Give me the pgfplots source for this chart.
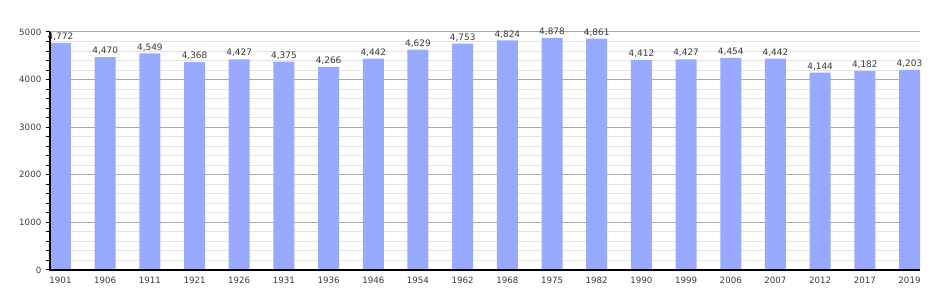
\documentclass[border=0pt]{standalone}
\usepackage{pgfplots}
\pgfplotsset{compat=1.18}
\usepackage{fontspec}
\setmainfont{DejaVu Sans}
\definecolor{barblue}{HTML}{98AAFF}
\definecolor{majgrid}{HTML}{A8A8A8}
\definecolor{mingrid}{HTML}{E4E4E4}
\definecolor{txt}{HTML}{3A3A3A}
\begin{document}
\begin{tikzpicture}[x=1pt,y=1pt]
\begin{axis}[
  scale only axis,
  width=652.5pt, height=178.5pt,
  ymin=0, ymax=5000,
  xmin=-0.235, xmax=19.235,
  ytick={0,1000,2000,3000,4000,5000},
  minor ytick={200,400,600,800,1200,1400,1600,1800,2200,2400,2600,2800,3200,3400,3600,3800,4200,4400,4600,4800},
  ymajorgrids, yminorgrids,
  major grid style={majgrid, line width=0.75pt},
  minor grid style={mingrid, line width=0.75pt},
  axis x line*=bottom, axis y line*=left,
  axis line style={draw=none, -},
  xtick=data,
  xticklabels={1901,1906,1911,1921,1926,1931,1936,1946,1954,1962,1968,1975,1982,1990,1999,2006,2007,2012,2017,2019},
  xtick style={draw=none},
  ytick style={black, line width=0.75pt},
  tick align=outside,
  major tick length=3pt, minor tick length=3pt,
  tick label style={font=\fontsize{6.5}{7}\selectfont, text=txt},
  xticklabel style={yshift=1.5pt},
  /pgf/number format/assume math mode=true,
  yticklabel style={/pgf/number format/.cd, 1000 sep={}, fixed},
  ybar, bar width=15.75pt, bar shift=0pt,
  clip=false,
  nodes near coords,
  every node near coord/.append style={font=\fontsize{6.7}{7}\selectfont, text=txt, inner sep=1.5pt, /pgf/number format/1000 sep={,}},
]
\addplot[fill=barblue, draw=none] coordinates {
(0,4772) (1,4470) (2,4549) (3,4368) (4,4427) (5,4375) (6,4266) (7,4442) (8,4629) (9,4753)
(10,4824) (11,4878) (12,4861) (13,4412) (14,4427) (15,4454) (16,4442) (17,4144) (18,4182) (19,4203)};
\draw[black, line width=0.9pt] (rel axis cs:0,1) -- (rel axis cs:0,0) -- (rel axis cs:1,0);
\path[use as bounding box] (rel axis cs:-0.05747,-0.12605) rectangle (rel axis cs:1.03448,1.13445);
\end{axis}
\end{tikzpicture}
\end{document}
